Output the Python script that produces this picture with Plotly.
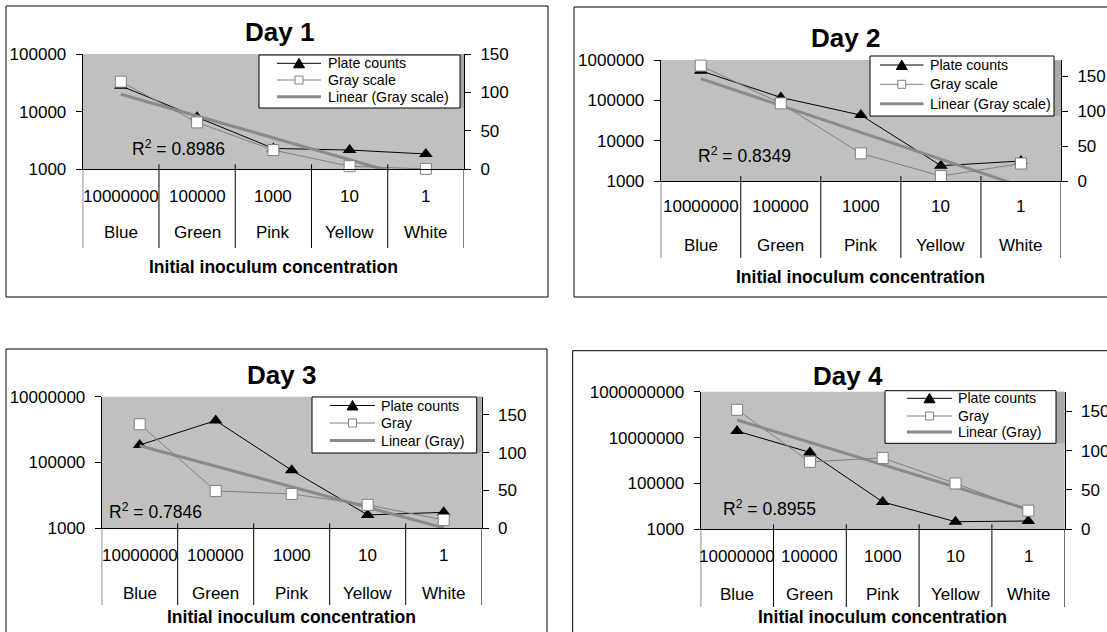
import numpy as np
import plotly.graph_objects as go

W, H = 1107, 632

# ---------------- data ----------------
conc_labels = ["10000000", "100000", "1000", "10", "1"]
color_labels = ["Blue", "Green", "Pink", "Yellow", "White"]
day_titles = ["Day 1", "Day 2", "Day 3", "Day 4"]

plate_day1 = [28000, 8000, 2300, 2160, 1845]
plate_day2 = [540000, 118000, 43000, 2400, 3130]
plate_day3 = [340000, 1880000, 58000, 2540, 3060]
plate_day4 = [19300000, 2250000, 15600, 2150, 2300]

gray_day1 = [114, 61, 25, 4, 0.5]
gray_day2 = [165, 111, 39.5, 7, 25]
gray_day3 = [137.6, 49.4, 45.4, 31, 11]
gray_day4 = [152, 85.8, 90.8, 58.3, 23.7]

r2_labels = ["0.8986", "0.8349", "0.7846", "0.8955"]
plate_name = "Plate counts"
gray_names = ["Gray scale", "Gray scale", "Gray", "Gray"]
axis_title = "Initial inoculum concentration"

left_ticks = [
    [1000, 10000, 100000],
    [1000, 10000, 100000, 1000000],
    [1000, 100000, 10000000],
    [1000, 100000, 10000000, 1000000000],
]
right_ticks = [0, 50, 100, 150]

plates = [plate_day1, plate_day2, plate_day3, plate_day4]
grays = [gray_day1, gray_day2, gray_day3, gray_day4]

# ---------------- layout geometry (pixels) ----------------
panels = [
    dict(box=(6, 6, 548, 297), plot=(82.7, 54, 464, 169.3), ymax=150,
         title=(279, 32), r2=(130, 148),
         lbox=(259, 55, 460, 108), lrows=(63.3, 80, 96.7), lsample=(277, 321), ltext=325.5,
         rows=(196, 233), sep_bottom=248, atitle=267),
    dict(box=(574, 7, 1112, 297), plot=(660.7, 60, 1061, 181), ymax=173,
         title=(845, 38), r2=(696, 155),
         lbox=(870, 56, 1054, 116), lrows=(65, 84.3, 103.7), lsample=(880, 923.5), ltext=928,
         rows=(207, 245), sep_bottom=258, atitle=277),
    dict(box=(6, 349, 547, 640), plot=(101.7, 396.7, 481.7, 528.3), ymax=174,
         title=(281, 375), r2=(107, 511),
         lbox=(312, 397, 476.7, 453), lrows=(405.5, 423, 440.5), lsample=(330, 375), ltext=379.3,
         rows=(555, 593), sep_bottom=605, atitle=617),
    dict(box=(572.7, 350.7, 1112, 640), plot=(700.7, 391.7, 1064.7, 529.3), ymax=175,
         title=(848, 376), r2=(721, 508),
         lbox=(885, 390.7, 1056, 443.3), lrows=(398.3, 416, 432), lsample=(907, 952), ltext=956,
         rows=(556, 594), sep_bottom=607, atitle=617),
]


def px(x):
    return x / W


def py(y):
    return 1 - y / H


FONT = "Liberation Sans, Arial, sans-serif"
TICKFONT = dict(family=FONT, size=17, color="black")
LEGFONT = dict(family=FONT, size=14.2, color="black")
PLATE_COLOR = "black"
GRAY_COLOR = "#808080"
TREND_COLOR = "#8a8a8a"

fig = go.Figure()
shapes = []
annotations = []
layout = {}

xcat = list(range(len(conc_labels)))
xfit = np.arange(1, len(conc_labels) + 1)

for i, p in enumerate(panels):
    n = i + 1
    xa = "x" if n == 1 else f"x{n}"
    ya = "y" if n == 1 else f"y{2 * n - 1}"
    ya2 = f"y{2 * n}"
    xkey = "xaxis" if n == 1 else f"xaxis{n}"
    ykey = "yaxis" if n == 1 else f"yaxis{2 * n - 1}"
    y2key = f"yaxis{2 * n}"

    x0, y0, x1, y1 = p["plot"]

    # plate counts (primary, log)
    fig.add_trace(go.Scatter(
        x=xcat, y=plates[i], mode="lines+markers", name=plate_name,
        line=dict(color=PLATE_COLOR, width=1),
        marker=dict(symbol="triangle-up", size=12, color=PLATE_COLOR),
        xaxis=xa, yaxis=ya, cliponaxis=False, showlegend=False))

    # linear trendline of gray values (secondary)
    coef = np.polyfit(xfit, np.array(grays[i], dtype=float), 1)
    trend = np.polyval(coef, xfit)
    trend_name = f"Linear ({gray_names[i]})"
    fig.add_trace(go.Scatter(
        x=xcat, y=trend, mode="lines", name=trend_name,
        line=dict(color=TREND_COLOR, width=3),
        xaxis=xa, yaxis=ya2, showlegend=False))

    # gray values (secondary)
    fig.add_trace(go.Scatter(
        x=xcat, y=grays[i], mode="lines+markers", name=gray_names[i],
        line=dict(color=GRAY_COLOR, width=1),
        marker=dict(symbol="square", size=11, color="white",
                    line=dict(color=GRAY_COLOR, width=1)),
        xaxis=xa, yaxis=ya2, cliponaxis=False, showlegend=False))

    layout[xkey] = dict(domain=[px(x0), px(x1)], anchor=ya,
                        range=[-0.5, len(conc_labels) - 0.5],
                        showline=True, linecolor="black", linewidth=1,
                        showticklabels=False, ticks="", showgrid=False,
                        zeroline=False, fixedrange=True, automargin=False)
    lt = left_ticks[i]
    layout[ykey] = dict(domain=[py(y1), py(y0)], anchor=xa, type="log",
                        range=[np.log10(lt[0]), np.log10(lt[-1])],
                        tickvals=lt, ticktext=[str(v) for v in lt],
                        showline=True, linecolor="black", linewidth=1,
                        ticks="outside", ticklen=6, tickcolor="black",
                        tickfont=TICKFONT, showgrid=False, zeroline=False,
                        ticklabelstandoff=6, automargin=False)
    layout[y2key] = dict(overlaying=ya, anchor=xa, side="right",
                         range=[0, p["ymax"]], tickvals=right_ticks,
                         ticktext=[str(v) for v in right_ticks],
                         showline=True, linecolor="black", linewidth=1,
                         ticks="outside", ticklen=6, tickcolor="black",
                         tickfont=TICKFONT, showgrid=False, zeroline=False,
                         ticklabelstandoff=6, automargin=False)

    # chart border
    bx0, by0, bx1, by1 = p["box"]
    shapes.append(dict(type="rect", xref="paper", yref="paper",
                       x0=px(bx0), x1=px(bx1), y0=py(by1), y1=py(by0),
                       line=dict(color="black", width=1), layer="below"))

    # ---- legend (drawn by hand to match the boxed Excel legend) ----
    lx0, ly0, lx1, ly1 = p["lbox"]
    # darker strip between legend and right axis
    shapes.append(dict(type="rect", xref="paper", yref="paper",
                       x0=px(lx1), x1=px(x1), y0=py(ly1), y1=py(y0),
                       line=dict(width=0), fillcolor="#a9a9a9", layer="above"))
    shapes.append(dict(type="rect", xref="paper", yref="paper",
                       x0=px(lx0), x1=px(lx1), y0=py(ly1), y1=py(ly0),
                       line=dict(color="black", width=1), fillcolor="white",
                       layer="above"))
    sx0, sx1 = p["lsample"]
    cx = (sx0 + sx1) / 2
    names = [plate_name, gray_names[i], trend_name]
    styles = [(PLATE_COLOR, 1), (GRAY_COLOR, 1), (TREND_COLOR, 3)]
    for j, ry in enumerate(p["lrows"]):
        col, wd = styles[j]
        shapes.append(dict(type="line", xref="paper", yref="paper",
                           x0=px(sx0), x1=px(sx1), y0=py(ry), y1=py(ry),
                           line=dict(color=col, width=wd), layer="above"))
        if j == 0:
            path = (f"M {px(cx - 5.5)} {py(ry + 4.5)} L {px(cx + 5.5)} {py(ry + 4.5)} "
                    f"L {px(cx)} {py(ry - 5)} Z")
            shapes.append(dict(type="path", xref="paper", yref="paper", path=path,
                               fillcolor=PLATE_COLOR, line=dict(color=PLATE_COLOR, width=1),
                               layer="above"))
        elif j == 1:
            shapes.append(dict(type="rect", xref="paper", yref="paper",
                               x0=px(cx - 4), x1=px(cx + 4), y0=py(ry + 4), y1=py(ry - 4),
                               fillcolor="white", line=dict(color=GRAY_COLOR, width=1),
                               layer="above"))
        annotations.append(dict(xref="paper", yref="paper", x=px(p["ltext"]), y=py(ry),
                                text=names[j], showarrow=False, xanchor="left",
                                yanchor="middle", font=LEGFONT))

    # category separators
    for k in range(len(conc_labels) + 1):
        top = y1 if k in (0, len(conc_labels)) else y1 - 5
        shapes.append(dict(type="line", xref=xa, yref="paper",
                           x0=k - 0.5, x1=k - 0.5,
                           y0=py(top), y1=py(p["sep_bottom"]),
                           line=dict(color="black", width=1)))

    # category labels
    r1, r2 = p["rows"]
    for k in range(len(conc_labels)):
        annotations.append(dict(xref=xa, yref="paper", x=k, y=py(r1),
                                text=conc_labels[k], showarrow=False,
                                font=TICKFONT, yanchor="middle"))
        annotations.append(dict(xref=xa, yref="paper", x=k, y=py(r2),
                                text=color_labels[k], showarrow=False,
                                font=TICKFONT, yanchor="middle"))

    # axis title
    annotations.append(dict(xref=xa, yref="paper", x=(len(conc_labels) - 1) / 2,
                            y=py(p["atitle"]), text=f"<b>{axis_title}</b>",
                            showarrow=False, yanchor="middle",
                            font=dict(family=FONT, size=17.5, color="black")))
    # chart title
    tx, ty = p["title"]
    annotations.append(dict(xref="paper", yref="paper", x=px(tx), y=py(ty),
                            text=f"<b>{day_titles[i]}</b>", showarrow=False,
                            xanchor="center", yanchor="middle",
                            font=dict(family=FONT, size=26, color="black")))
    # R^2 label
    rx, ry = p["r2"]
    annotations.append(dict(xref="paper", yref="paper", x=px(rx), y=py(ry),
                            text=f"R<sup>2</sup> = {r2_labels[i]}",
                            showarrow=False, xanchor="left", yanchor="middle",
                            font=dict(family=FONT, size=17.5, color="black")))

fig.update_layout(
    width=W, height=H, margin=dict(l=0, r=0, t=0, b=0, autoexpand=False),
    paper_bgcolor="white", plot_bgcolor="#c0c0c0", showlegend=False,
    font=dict(family=FONT, color="black"),
    shapes=shapes, annotations=annotations, **layout)

fig.write_html("out.html",
               config={"displayModeBar": False},
               post_script="document.body.style.margin='0';"
                           "document.body.style.overflow='hidden';")
